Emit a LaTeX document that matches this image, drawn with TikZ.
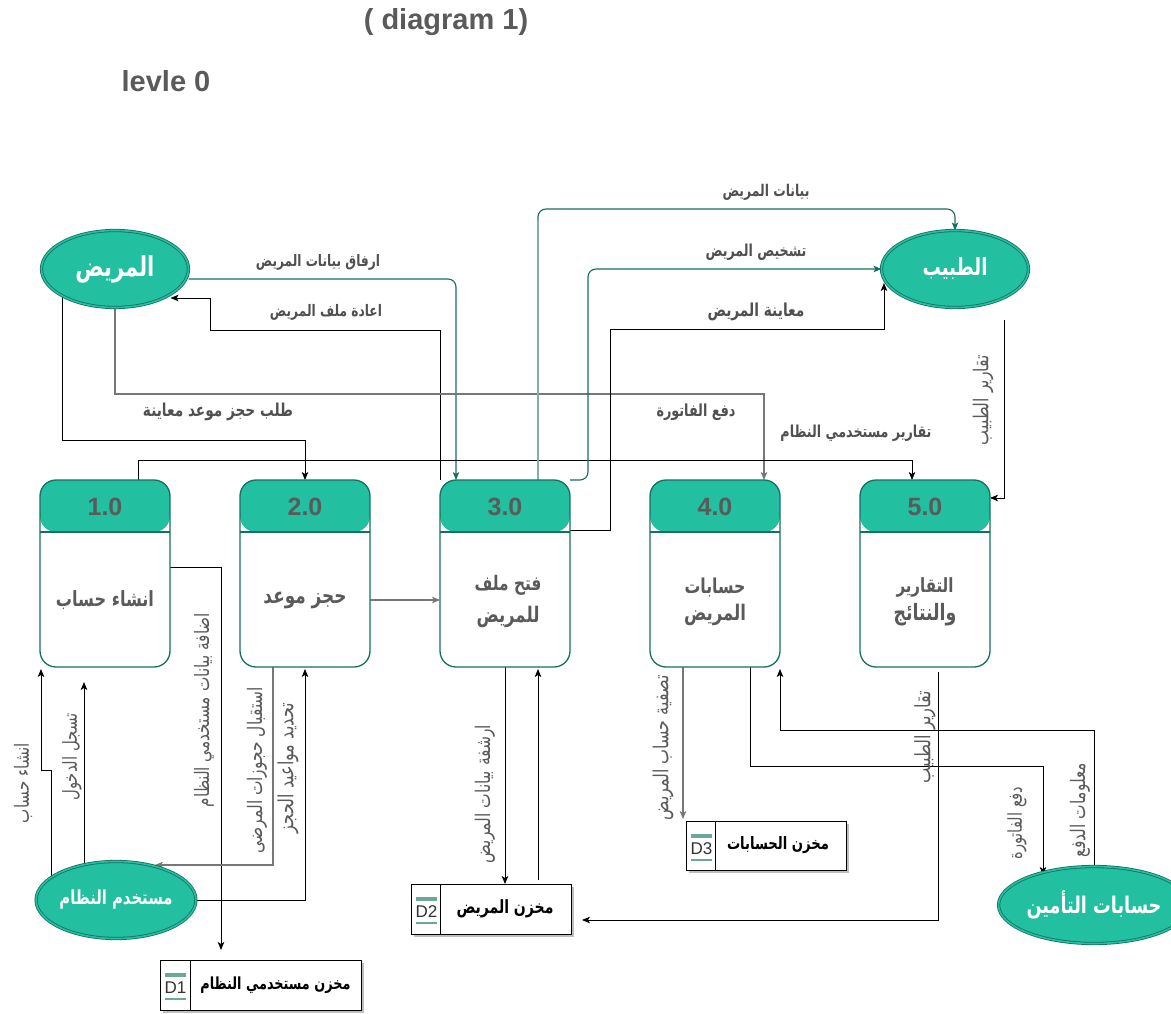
\documentclass[tikz,border=0pt]{standalone}
\usepackage{graphicx}
\usepackage{fontspec}
\setmainfont{Liberation Sans}
\newfontfamily\arabicfont[Script=Arabic]{DejaVu Sans}
\TeXXeTstate=1
\usetikzlibrary{shapes.geometric,arrows.meta,backgrounds,shadows}
\definecolor{tfill}{HTML}{22BFA1}
\definecolor{tdark}{HTML}{15705F}
\definecolor{tline}{HTML}{176B5F}
\definecolor{tlight}{HTML}{88ADA7}
\definecolor{lblc}{HTML}{505050}
\definecolor{numc}{HTML}{5A5A5A}
\definecolor{vcol}{HTML}{5A5A5A}
\definecolor{gline}{HTML}{777777}
\definecolor{barc}{HTML}{6AA89C}
\newcommand\ArB[2]{\scalebox{1}[1.3]{\resizebox{#1pt}{!}{\arabicfont\bfseries #2}}}
\newcommand\ArR[2]{\scalebox{1}[1.3]{\resizebox{#1pt}{!}{\arabicfont #2}}}
\tikzset{
 every node/.style={inner sep=0pt, outer sep=0pt},
 title/.style={font=\bfseries\fontsize{29}{30}\selectfont, text=numc},
 entity/.style={ellipse, minimum width=147pt, minimum height=77pt, fill=tfill, draw=tdark, line width=0.8pt, double=tfill, double distance=1.6pt, text=white},
 proc/.style={rectangle, rounded corners=16pt, minimum width=130pt, minimum height=187pt, draw=tdark, line width=1.3pt, fill=white,
   path picture={\fill[tfill] (path picture bounding box.north west) rectangle ([yshift=-52pt]path picture bounding box.north east);
   \draw[tdark,line width=1.3pt] ([yshift=-52pt]path picture bounding box.north west) -- ([yshift=-52pt]path picture bounding box.north east);}},
 numtxt/.style={font=\bfseries\fontsize{25}{25}\selectfont, text=numc},
 ptxt/.style={text=numc},
 store/.style={rectangle, draw=black, line width=0.8pt, fill=white, drop shadow={shadow xshift=3pt, shadow yshift=-3pt, fill=black!25, opacity=1}},
 dtxt/.style={font=\fontsize{17}{17}\selectfont, text=black!80},
 lbl/.style={text=lblc},
 vlbl/.style={text=vcol, rotate=90},
 conn/.style={line width=0.9pt, -{Stealth[length=8pt,width=6.5pt,inset=2pt]}},
 bl/.style={conn, draw=black},
 gl/.style={conn, draw=gline, line width=1.1pt},
 tl/.style={conn, draw=tline, line width=1.1pt, rounded corners=8pt},
}
\newcommand\dlab[3]{%
 \fill[barc] ([xshift=5pt,yshift=-13pt]#1.north west) rectangle ([xshift=26pt,yshift=-17pt]#1.north west);
 \node[dtxt] (#1lab) at ([xshift=15.5pt,yshift=-28pt]#1.north west) {#2};
 \draw[barc,line width=1.5pt] ([xshift=5pt,yshift=-39pt]#1.north west) -- ([xshift=26pt,yshift=-39pt]#1.north west);
 \draw[line width=0.8pt] ([xshift=#3pt]#1.north west) -- ([xshift=#3pt]#1.south west);
}
\begin{document}
\begin{tikzpicture}[x=1pt,y=-1pt]
\useasboundingbox (0,0) rectangle (1171,1014);
\node[title] (t1) at (446,22) {( diagram 1)};
\node[title] (t2) at (166,81) {levle 0};

% entities
\node[entity] (pat) at (115,269) {\ArB{79}{\beginR المريض\endR}};
\node[entity] (doc) at (955,269) {\ArB{65}{\beginR الطبيب\endR}};
\node[entity] (usr) at (116,900) {\ArB{113}{\beginR مستخدم النظام\endR}};
\node[entity] (ins) at (1094,905) {\ArB{135}{\beginR حسابات التأمين\endR}};

% processes
\node[proc] (p1) at (105,573.5) {};
\node[numtxt] (p1n) at (105,507) {1.0};
\node[ptxt] (p1b) at (105,600) {\ArB{98}{\beginR انشاء حساب\endR}};
\node[proc] (p2) at (305,573.5) {};
\node[numtxt] (p2n) at (305,507) {2.0};
\node[ptxt] (p2b) at (305,600) {\ArB{83}{\beginR حجز موعد\endR}};
\node[proc] (p3) at (505,573.5) {};
\node[numtxt] (p3n) at (505,507) {3.0};
\node[ptxt] (p3b1) at (508,585) {\ArB{67}{\beginR فتح ملف\endR}};
\node[ptxt] (p3b2) at (508,617) {\ArB{63}{\beginR للمريض\endR}};
\node[proc] (p4) at (715,573.5) {};
\node[numtxt] (p4n) at (715,507) {4.0};
\node[ptxt] (p4b1) at (715,587) {\ArB{61}{\beginR حسابات\endR}};
\node[ptxt] (p4b2) at (715,615) {\ArB{62}{\beginR المريض\endR}};
\node[proc] (p5) at (925,573.5) {};
\node[numtxt] (p5n) at (925,507) {5.0};
\node[ptxt] (p5b1) at (925,587) {\ArB{57}{\beginR التقارير\endR}};
\node[ptxt] (p5b2) at (925,615) {\ArB{63}{\beginR والنتائج\endR}};

% data stores
\node[store, minimum width=201pt, minimum height=50pt] (d1) at (260.5,985) {};
\dlab{d1}{D1}{30}
\node (d1t) at ([xshift=15pt]d1.center) {\ArB{150}{\beginR مخزن مستخدمي النظام\endR}};
\node[store, minimum width=160pt, minimum height=50pt] (d2) at (491,909) {};
\dlab{d2}{D2}{29}
\node (d2t) at ([xshift=14pt]d2.center) {\ArB{97}{\beginR مخزن المريض\endR}};
\node[store, minimum width=160pt, minimum height=49pt] (d3) at (766,845.5) {};
\dlab{d3}{D3}{29}
\node (d3t) at ([xshift=12pt]d3.center) {\ArB{102}{\beginR مخزن الحسابات\endR}};

% horizontal labels
\node[lbl] (l1) at (318,262) {\ArB{124}{\beginR ارفاق بيانات المريض\endR}};
\node[lbl] (l2) at (326,312) {\ArB{112}{\beginR اعادة ملف المريض\endR}};
\node[lbl] (l3) at (218,412) {\ArB{150}{\beginR طلب حجز موعد معاينة\endR}};
\node[lbl] (l4) at (696,412) {\ArB{79}{\beginR دفع الفاتورة\endR}};
\node[lbl] (l5) at (856,433) {\ArB{151}{\beginR تقارير مستخدمي النظام\endR}};
\node[lbl] (l6) at (766,192) {\ArB{87}{\beginR بيانات المريض\endR}};
\node[lbl] (l7) at (756,252) {\ArB{101}{\beginR تشخيص المريض\endR}};
\node[lbl] (l8) at (756,312) {\ArB{97}{\beginR معاينة المريض\endR}};
% vertical labels
\node[vlbl] (l9) at (983,400) {\ArR{90}{\beginR تقارير الطبيب\endR}};
\node[vlbl] (l10) at (23,783) {\ArR{80}{\beginR انشاء حساب\endR}};
\node[vlbl] (l11) at (72,757) {\ArR{87}{\beginR تسجل الدخول\endR}};
\node[vlbl] (l12) at (204,710) {\ArR{194}{\beginR اضافة بيانات مستخدمي النظام\endR}};
\node[vlbl] (l13) at (257,770) {\ArR{166}{\beginR استقبال حجوزات المرضى\endR}};
\node[vlbl] (l14) at (288,768) {\ArR{130}{\beginR تحديد مواعيد الحجز\endR}};
\node[vlbl] (l15) at (485,794) {\ArR{138}{\beginR ارشفة بيانات المريض\endR}};
\node[vlbl] (l16) at (663,748) {\ArR{145}{\beginR تصفية حساب المريض\endR}};
\node[vlbl] (l17) at (925,737) {\ArR{93}{\beginR تقارير الطبيب\endR}};
\node[vlbl] (l18) at (1017,823) {\ArR{73}{\beginR دفع الفاتورة\endR}};
\node[vlbl] (l19) at (1080,810) {\ArR{94}{\beginR معلومات الدفع\endR}};

\coordinate (c9) at (1004,320);

\begin{scope}[on background layer]
% patient -> 3.0
\draw[tl] ([yshift=-10pt]pat.east) -- (456,279) -- ([xshift=-49pt]p3.north);
% 3.0 -> patient
\draw[bl] ([xshift=-65pt]p3.north) -- (440,330) -- (210,330) -- (210,298) -- ([xshift=-18pt,yshift=-29pt]pat.east);
% patient -> 2.0
\draw[bl] ([xshift=-53pt,yshift=-28pt]pat.center) -- (62,440) -- (305,440) -- (p2.north);
% patient -> 4.0
\draw[gl] (pat.south) -- (115,394) -- (764,394) -- ([xshift=49pt]p4.north);
% 1.0 -> 5.0
\draw[bl] ([xshift=33pt]p1.north) -- (138,460) -- (912,460) -- ([xshift=-13pt]p5.north);
% 3.0 -> doctor (data)
\draw[tl] ([xshift=33pt]p3.north) -- (538,209) -- (955,209) -- (doc.north);
\draw[tlight, line width=1.3pt] ([xshift=33pt]p3.north) -- (538,220);
% 3.0 -> doctor (diagnosis)
\draw[tl] (p3.north east) -- (588,480) -- (588,269) -- (doc.west);
% 3.0 -> doctor (examination)
\draw[bl] ([yshift=43.5pt]p3.east) -- (610,530) -- (610,329) -- (884,329) -- ([xshift=-71pt,yshift=-14pt]doc.center);
% doctor -> 5.0
\draw[bl] (c9) -- (1004,498) -- ([yshift=75.5pt]p5.east);
% 1.0 -> D1
\draw[bl] ([yshift=6.5pt]p1.east) -- (221,567) -- ([xshift=-39.5pt,yshift=10pt]d1.north);
% user -> 1.0
\draw[bl] ([xshift=-65pt,yshift=22pt]usr.center) -- (51,770) -- (41,770) -- ([xshift=-64pt,yshift=-2pt]p1.south);
\draw[bl] ([xshift=-32pt,yshift=35pt]usr.center) -- ([xshift=-21pt,yshift=-15pt]p1.south);
% 2.0 -> user
\draw[gl] ([xshift=-32pt]p2.south) -- (273,865) -- ([xshift=39pt,yshift=35pt]usr.center);
% user -> 2.0
\draw[bl] (usr.east) -- (305,900) -- ([yshift=-2pt]p2.south);
% 2.0 -> 3.0
\draw[gl] ([yshift=-26.5pt]p2.east) -- ([yshift=-26.5pt]p3.west);
% 3.0 <-> D2
\draw[bl] (p3.south) -- ([xshift=14pt]d2.north);
\draw[bl] ([xshift=47pt,yshift=4pt]d2.north) -- ([xshift=33pt,yshift=-2pt]p3.south);
% 4.0 -> D3
\draw[gl] ([xshift=-32pt]p4.south) -- ([xshift=-83pt,yshift=2pt]d3.north);
% 4.0 -> insurance
\draw[bl] ([xshift=35pt]p4.south) -- (750,766) -- (1043,766) -- ([xshift=-51pt,yshift=30pt]ins.center);
% insurance -> 4.0
\draw[bl] (ins.north) -- (1094,730) -- (780,730) -- ([xshift=65pt,yshift=-2pt]p4.south);
% 5.0 -> D2
\draw[bl] ([xshift=13pt,yshift=-5pt]p5.south) -- (938,920) -- ([xshift=11pt,yshift=-11pt]d2.east);
\end{scope}
\end{tikzpicture}
\end{document}
